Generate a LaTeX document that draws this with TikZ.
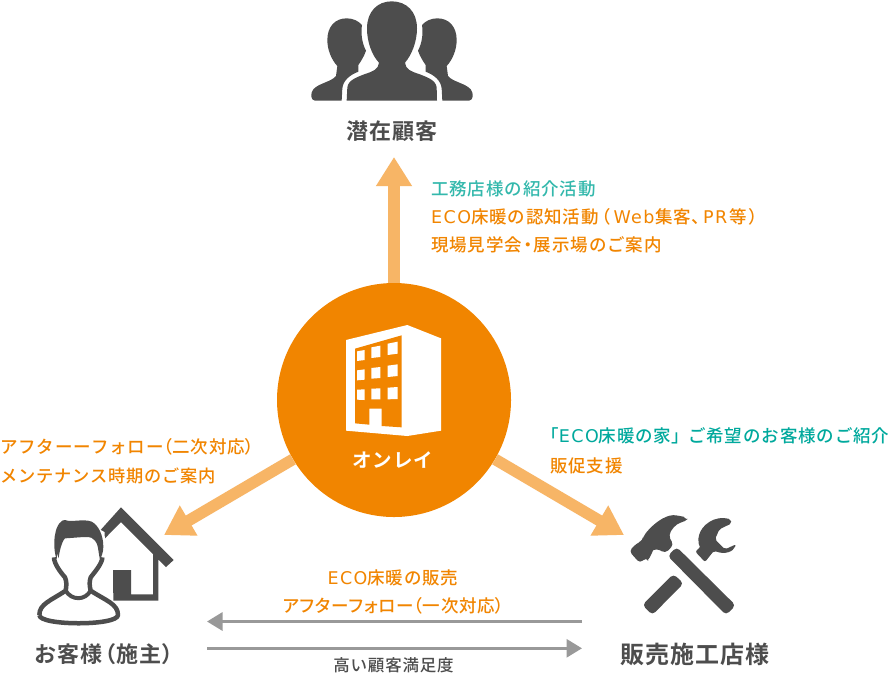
\documentclass[tikz,border=0pt]{standalone}
\usepackage{fontspec}
\usetikzlibrary{arrows.meta}
\setmainfont{Noto Sans CJK JP}
\newfontfamily\jpa[LetterSpace=5,UprightFont=* Medium]{Noto Sans CJK JP}
\newfontfamily\jpr[LetterSpace=5,RawFeature=+palt,UprightFont=* Medium]{Noto Sans CJK JP}
\newfontfamily\jpp[RawFeature=+palt,UprightFont=* Medium]{Noto Sans CJK JP}
\newfontfamily\jpq[RawFeature=+palt]{Noto Sans CJK JP Bold}
\newfontfamily\jpb[LetterSpace=5]{Noto Sans CJK JP Bold}
\newfontfamily\lat[LetterSpace=8]{DejaVu Sans}
\newcommand{\pa}[1]{{\jpp #1}}
\newcommand{\qa}[1]{{\jpq #1}}
\newcommand{\la}[1]{{\lat #1}}
\definecolor{ink}{HTML}{4D4D4D}
\definecolor{hubor}{HTML}{F18500}
\definecolor{armor}{HTML}{F7B566}
\definecolor{gry}{HTML}{999999}
\definecolor{tealA}{HTML}{33B8AC}
\definecolor{tealB}{HTML}{00A99D}
\tikzset{
  hubnode/.style={circle,fill=hubor,draw=none,minimum size=234pt,inner sep=0pt},
  bigarrow/.style={draw=armor,line width=12.5pt,-{Triangle[length=29pt,width=34pt,fill=armor]},shorten >=0pt},
  greyarrow/.style={draw=gry,line width=3pt,-{Triangle[length=15.5pt,width=18pt,fill=gry]}},
  lbl/.style={inner sep=0pt,text=ink,font=\fontsize{22}{24}\selectfont\jpb},
  txt/.style={inner sep=0pt,anchor=west,font=\fontsize{17.5}{20}\selectfont\jpa},
  ctxt/.style={inner sep=0pt,font=\fontsize{17.5}{20}\selectfont\jpa},
}
\begin{document}
\begin{tikzpicture}[x=1pt,y=-1pt]
\useasboundingbox (0,0) rectangle (890,673);
\fill[white] (0,0) rectangle (890,673);

% hub
\node[hubnode] (hub) at (394,400) {};
\coordinate (tipT) at (394,157);
\coordinate (tipL) at (164,535);
\coordinate (tipR) at (624,535);
\draw[bigarrow] (hub) -- (tipT);
\draw[bigarrow,line width=11.5pt,-{Triangle[length=28.6pt,width=33pt,fill=armor]}] (hub) -- (tipL);
\draw[bigarrow,line width=11.5pt,-{Triangle[length=28.6pt,width=33pt,fill=armor]}] (hub) -- (tipR);

% building
\begin{scope}[shift={(270,300)},scale=1/3]
\fill[white] (228,120)--(412,75)--(513,115)--(513,392)--(412,408)--(228,392)--cycle;
\fill[hubor] (255,146)--(395,106)--(395,382)--(335,378)--(335,326)--(298,326)--(298,374)--(255,370)--cycle;
\fill[white] (261,154)--(284,150)--(284,180)--(261,183)--cycle;
\fill[white] (304,142)--(331,137)--(331,171)--(304,174)--cycle;
\fill[white] (353,131)--(383,125)--(383,161)--(353,165)--cycle;
\fill[white] (261,211)--(284,208)--(284,239)--(261,241)--cycle;
\fill[white] (304,204)--(331,201)--(331,234)--(304,236)--cycle;
\fill[white] (353,197)--(383,193)--(383,228)--(353,231)--cycle;
\fill[white] (261,269)--(284,268)--(284,300)--(261,299)--cycle;
\fill[white] (304,266)--(331,265)--(331,298)--(304,298)--cycle;
\fill[white] (353,263)--(383,261)--(383,297)--(353,298)--cycle;
\end{scope}
\node[inner sep=0pt,text=white,font=\fontsize{19.5}{22}\selectfont\jpb] (hubtxt) at (393,460) {オンレイ};

% group icon
\begin{scope}[shift={(290,0)},scale=1/3]
\fill[ink] (155,302) -- (75,302) .. controls (62,302) and (60,280) .. (70,268)
  .. controls (85,250) and (125,245) .. (138,228) -- (142,198)
  .. controls (125,180) and (112,150) .. (112,120)
  .. controls (112,80) and (135,55) .. (170,55)
  .. controls (190,55) and (205,63) .. (216,75)
  .. controls (212,100) and (216,130) .. (228,152)
  .. controls (222,170) and (212,185) .. (205,195) -- (205,215)
  .. controls (180,225) and (160,240) .. (157,265) -- cycle;
\fill[ink] (457,302) -- (537,302) .. controls (550,302) and (552,280) .. (542,268)
  .. controls (527,250) and (487,245) .. (474,228) -- (470,198)
  .. controls (487,180) and (500,150) .. (500,120)
  .. controls (500,80) and (477,55) .. (442,55)
  .. controls (422,55) and (407,63) .. (396,75)
  .. controls (400,100) and (396,130) .. (384,152)
  .. controls (390,170) and (400,185) .. (407,195) -- (407,215)
  .. controls (432,225) and (452,240) .. (455,265) -- cycle;
\fill[ink] (170,302) -- (172,262) .. controls (175,240) and (200,232) .. (225,222)
  .. controls (250,214) and (265,208) .. (267,188)
  .. controls (245,165) and (231,125) .. (231,85)
  .. controls (231,35) and (262,4) .. (305,4)
  .. controls (350,4) and (381,35) .. (381,85)
  .. controls (381,125) and (365,165) .. (345,188)
  .. controls (347,208) and (362,214) .. (387,222)
  .. controls (412,232) and (437,240) .. (440,262) -- (441,302) -- cycle;
\end{scope}
\node[lbl] (pot) at (392,131) {潜在顧客};

% customer icon
\begin{scope}[shift={(20,500)},scale=1/3]
\fill[ink] (240,92) -- (303,22) -- (461,180) -- (438,201) -- (415,178) -- (415,302) -- (280,302) -- (279,210) -- (333,210) -- (333,283) -- (399,283) -- (399,162) -- (303,66) -- (250,120) -- cycle;
\fill[white,draw=white,line width=4pt] (55,345) .. controls (55,310) and (90,300) .. (137,270)
  .. controls (140,255) and (140,245) .. (135,232)
  .. controls (120,215) and (100,190) .. (100,172)
  -- (104,100) -- (175,60) -- (248,100) -- (250,172)
  .. controls (250,190) and (225,215) .. (212,232)
  .. controls (208,245) and (208,255) .. (212,270)
  .. controls (260,300) and (297,310) .. (297,345)
  .. controls (297,375) and (55,375) .. (55,345) -- cycle;
\draw[ink,line width=4.5pt,line join=round] (58,345) .. controls (58,312) and (92,302) .. (137,272)
  .. controls (140,255) and (140,245) .. (135,232)
  .. controls (120,215) and (102,190) .. (102,172);
\draw[ink,line width=4.5pt,line join=round] (247,172) .. controls (247,190) and (225,215) .. (212,232)
  .. controls (208,245) and (208,255) .. (212,272)
  .. controls (258,302) and (294,312) .. (294,345)
  .. controls (294,378) and (58,378) .. (58,345);
\draw[ink,line width=4pt] (137,272) .. controls (155,302) and (195,302) .. (212,272);
\fill[ink] (110,178) .. controls (103,160) and (100,125) .. (106,100)
  .. controls (110,75) and (125,58) .. (135,60)
  .. controls (155,68) and (190,55) .. (215,65)
  .. controls (235,75) and (250,105) .. (250,140)
  .. controls (250,155) and (245,170) .. (240,178)
  .. controls (235,160) and (235,130) .. (225,122)
  .. controls (215,105) and (190,112) .. (135,115)
  .. controls (125,125) and (118,155) .. (116,175)
  -- (112,160) -- cycle;
\end{scope}
\node[lbl] (cust) at (104,654) {お客様\hspace{1.5pt}\qa{（}\hspace{1pt}施主\hspace{1pt}\qa{）}};

% tools icon
\begin{scope}[shift={(590,500)},scale=1/3]
\fill[ink,rounded corners=4pt] (117,153) -- (150,190) -- (168,172) .. controls (172,177) and (176,178) .. (180,174)
  .. controls (185,160) and (190,150) .. (200,145) -- (226,160) -- (252,133) -- (238,117)
  .. controls (240,90) and (260,70) .. (285,65) .. controls (290,60) and (280,50) .. (270,48)
  .. controls (235,42) and (200,60) .. (160,108) -- (158,122) -- (140,130) -- cycle;
\fill[ink,rounded corners=4pt] (260,141) -- (437,316) -- (408,345) -- (233,168) -- cycle;
\fill[ink,rounded corners=4pt] (250,222) -- (281,250) -- (187,345) -- (157,315) -- cycle;
\fill[ink,rounded corners=2pt] (316,155) -- (345,186) -- (372,152)
  .. controls (405,165) and (430,155) .. (438,133)
  -- (405,148) -- (375,118) -- (388,88) -- (425,70) -- (422,58)
  .. controls (375,45) and (335,75) .. (326,110)
  .. controls (324,125) and (327,135) .. (332,140) -- cycle;
\end{scope}
\node[lbl,font=\fontsize{24}{26}\selectfont\jpb] (shop) at (695,654) {販売施工店様};

% grey arrows
\coordinate (gAr) at (582,621.5);
\coordinate (gAl) at (207,621.5);
\coordinate (gBl) at (207,648.3);
\coordinate (gBr) at (582,648.3);
\draw[greyarrow] (gAr) -- (gAl);
\draw[greyarrow] (gBl) -- (gBr);

% texts
\node[txt,text=tealA] (t1) at (431,189) {工務店様の紹介活動};
\node[txt,text=hubor] (t2) at (431,217) {\la{ECO}床暖の認知活動\hspace{3pt}\pa{（}\hspace{3pt}\la{Web}\hspace{1pt}集客\pa{、}\hspace{3pt}\la{PR}\hspace{2pt}等\hspace{2pt}\pa{）}};
\node[txt,text=hubor] (t3) at (431,245) {現場見学会\hspace{1.5pt}\pa{・}\hspace{1.5pt}展示場のご案内};
\node[txt,text=tealB] (t4) at (550,436) {\pa{「}\la{ECO}床暖の家\pa{」}\hspace{8pt}ご希望のお客様のご紹介};
\node[txt,text=hubor] (t5) at (550,466) {販促支援};
\node[txt,text=hubor] (t6) at (0,447) {アフターーフォロー\pa{（}二次対応\pa{）}};
\node[txt,text=hubor,font=\fontsize{17.2}{20}\selectfont\jpa] (t7) at (0,476) {メンテナンス時期のご案内};
\node[ctxt,text=hubor] (t8) at (393,578) {\la{ECO}床暖の販売};
\node[ctxt,text=hubor] (t9) at (393.5,606) {{\jpr アフターフォロー}\pa{（}一次対応\pa{）}};
\node[ctxt,text=ink,font=\fontsize{16.5}{18}\selectfont\jpa] (t10) at (393.5,665) {高い顧客満足度};
\end{tikzpicture}
\end{document}
